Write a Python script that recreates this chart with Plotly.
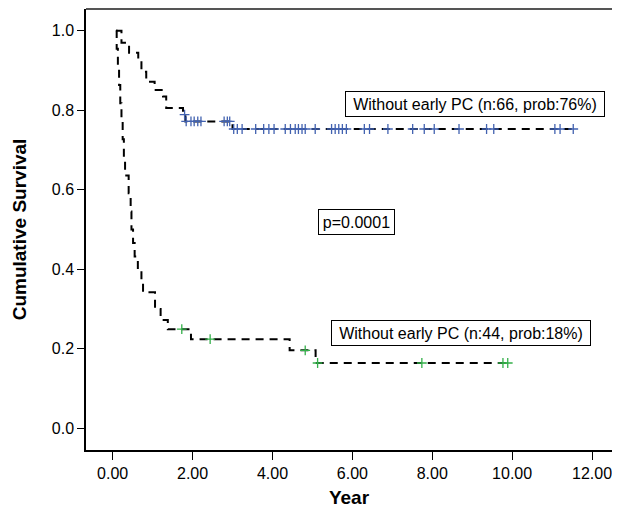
import plotly.graph_objects as go

# ---- data ----
upper_times = [0.08, 0.22, 0.41, 0.64, 0.72, 0.84, 1.05, 1.26, 1.34, 1.76, 1.82, 3.00, 11.55]
upper_surv = [1.000, 0.970, 0.945, 0.927, 0.897, 0.872, 0.851, 0.835, 0.806, 0.789, 0.772, 0.753, 0.753]
upper_cens_times = [1.80, 1.84, 1.96, 2.04, 2.13, 2.21, 2.79, 2.87, 2.93,
                    3.03, 3.12, 3.24, 3.58, 3.78, 3.91, 4.04, 4.32, 4.45, 4.57, 4.65,
                    4.74, 4.82, 5.07, 5.48, 5.57, 5.66, 5.75, 5.85, 6.30, 6.43, 6.89,
                    7.51, 7.80, 8.05, 8.67, 9.36, 9.54, 11.07, 11.20, 11.53]
upper_cens_surv = [0.789] + [0.772] * 8 + [0.753] * 31

lower_times = [0.08, 0.10, 0.13, 0.16, 0.19, 0.22, 0.25, 0.28, 0.31, 0.40, 0.45, 0.47,
               0.51, 0.55, 0.63, 0.72, 0.76, 1.06, 1.20, 1.38, 1.96, 4.43, 5.08, 9.90]
lower_surv = [1.000, 0.955, 0.910, 0.864, 0.818, 0.773, 0.727, 0.682, 0.636, 0.591, 0.545, 0.500,
              0.466, 0.432, 0.398, 0.369, 0.342, 0.300, 0.272, 0.249, 0.224, 0.196, 0.164, 0.164]
lower_cens_times = [1.73, 2.44, 4.82, 5.13, 7.74, 9.77, 9.89]
lower_cens_surv = [0.249, 0.224, 0.196, 0.164, 0.164, 0.164, 0.164]

x_ticks = [0, 2, 4, 6, 8, 10, 12]
y_ticks = [0.0, 0.2, 0.4, 0.6, 0.8, 1.0]

label_upper = "Without early PC (n:66, prob:76%)"
label_lower = "Without early PC (n:44, prob:18%)"
p_label = "p=0.0001"

BLUE = "#4262b0"
GREEN = "#34b04a"
FONT = "Liberation Sans, Arial, sans-serif"

fig = go.Figure()
for t, s in [(upper_times, upper_surv), (lower_times, lower_surv)]:
    fig.add_trace(go.Scatter(x=t, y=s, mode="lines", line_shape="hv",
                             line=dict(color="black", width=2, dash="8px,6px"),
                             showlegend=False, hoverinfo="skip"))
fig.add_trace(go.Scatter(x=upper_cens_times, y=upper_cens_surv, mode="markers",
                         marker=dict(symbol="cross-thin", size=7, line=dict(color=BLUE, width=1.3)),
                         showlegend=False))
fig.add_trace(go.Scatter(x=lower_cens_times, y=lower_cens_surv, mode="markers",
                         marker=dict(symbol="cross-thin", size=7, line=dict(color=GREEN, width=1.3)),
                         showlegend=False))

ann = dict(font=dict(family=FONT, size=16, color="black"), showarrow=False,
           bordercolor="black", borderwidth=1, bgcolor="white", borderpad=2, height=20)
fig.add_annotation(x=9.08, y=0.816, text=label_upper, width=254, **ann)
fig.add_annotation(x=8.72, y=0.239, text=label_lower, width=254, **ann)
fig.add_annotation(x=6.1, y=0.52, text=p_label, width=71, **ann)

# grey top border
fig.add_shape(type="line", xref="paper", yref="paper", x0=0, x1=1, y0=1, y1=1,
              line=dict(color="#555555", width=2))

# page body has an 8px margin; figure offset accordingly
fig.update_layout(
    width=612, height=500,
    margin=dict(l=78, r=8, t=1, b=58),
    paper_bgcolor="white", plot_bgcolor="white",
    font=dict(family=FONT, size=16, color="black"),
    xaxis=dict(range=[-0.668, 12.5], tickvals=x_ticks, tickformat=".2f", automargin=False,
               showline=True, linecolor="black", linewidth=1.5, ticks="outside",
               ticklen=8, tickwidth=1.2, tickcolor="black", showgrid=False, zeroline=False,
               title=dict(text="<b>Year</b>", font=dict(size=19), standoff=13)),
    yaxis=dict(range=[-0.055, 1.055], tickvals=y_ticks, tickformat=".1f", automargin=False,
               showline=True, linecolor="black", linewidth=1.5, ticks="outside",
               ticklen=7, tickwidth=1.2, tickcolor="black", showgrid=False, zeroline=False,
               title=dict(text="<b>Cumulative Survival</b>", font=dict(size=19), standoff=20)),
)

fig.write_html("out.html")
